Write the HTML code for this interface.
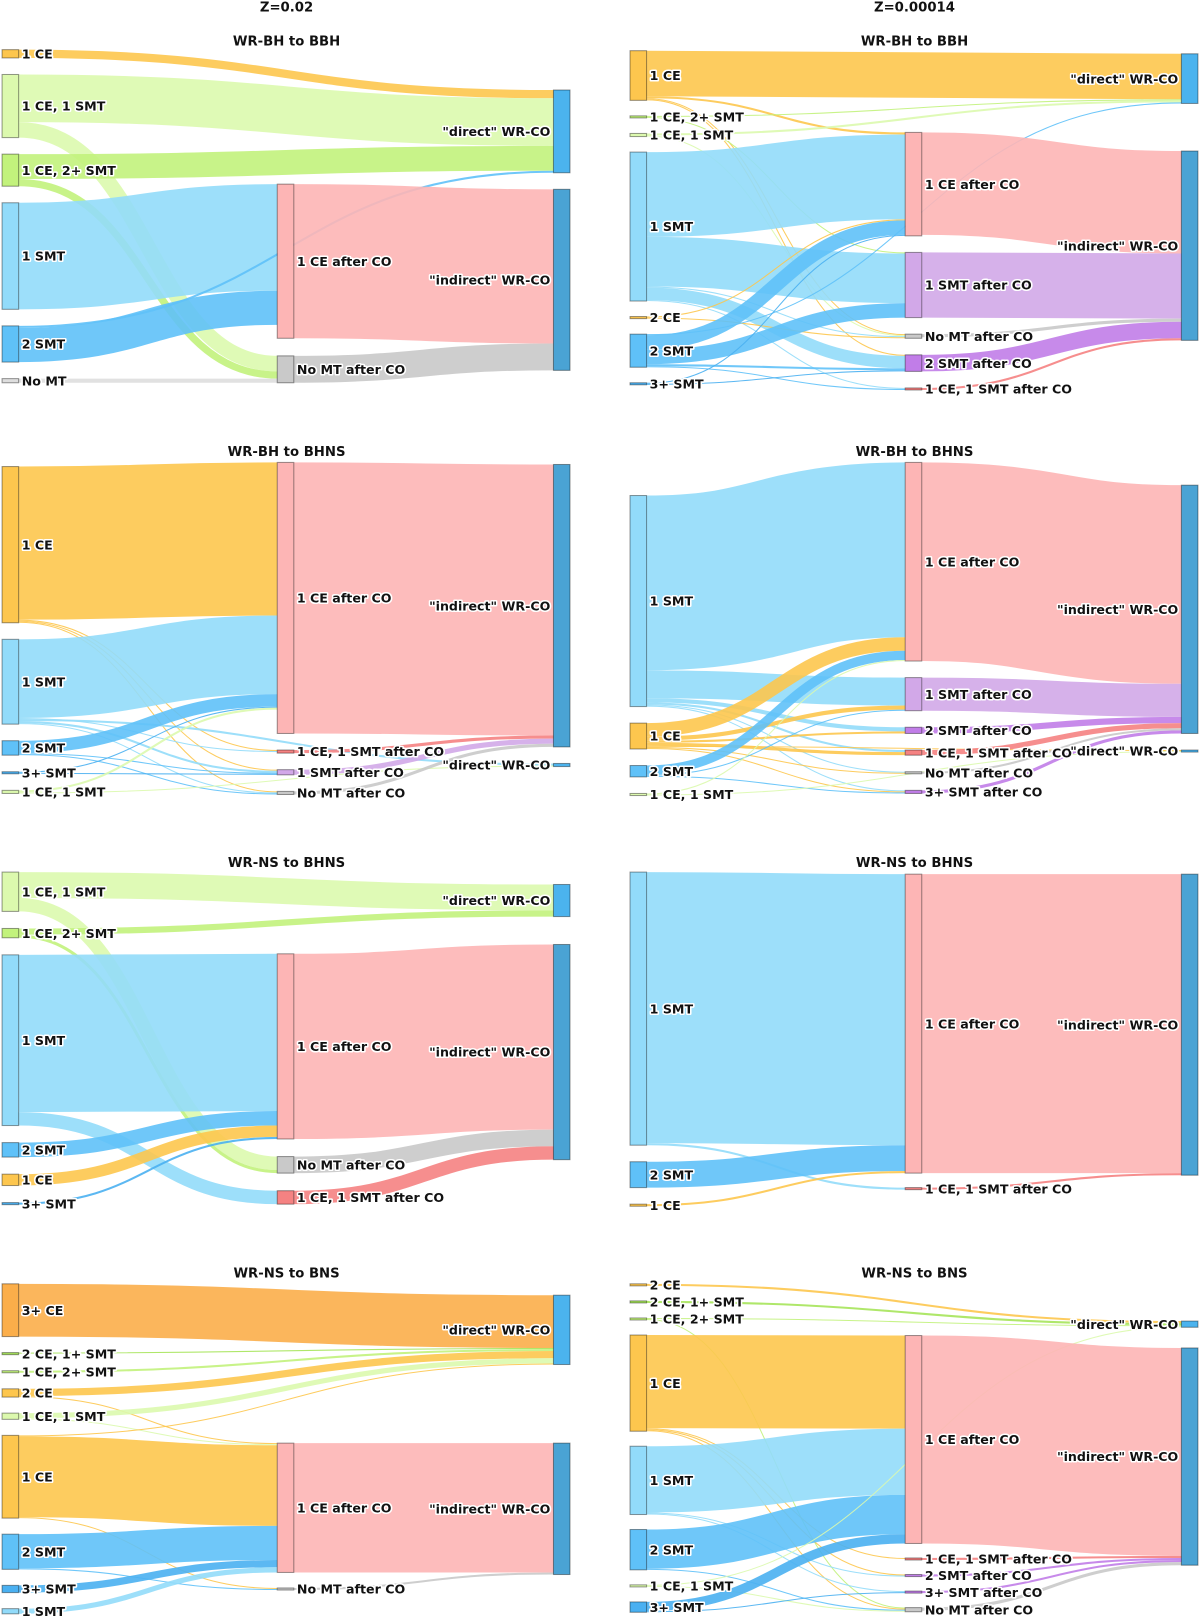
<!DOCTYPE html>
<html><head><meta charset="utf-8">
<style>
html,body{margin:0;padding:0;background:#fff;}
svg{display:block;font-family:"DejaVu Sans","Liberation Sans",sans-serif;}
.lbl{font-size:12.2px;font-weight:bold;fill:#111;paint-order:stroke;stroke:#fff;stroke-width:3px;stroke-linejoin:round;}
.ttl{font-size:12.8px;font-weight:bold;fill:#111;}
</style></head><body>
<svg id="fig" width="1200" height="1620" viewBox="0 0 1200 1620" xmlns="http://www.w3.org/2000/svg">
<g id="root" transform="scale(1.0345)">
<text class="ttl" x="277" y="11" text-anchor="middle">Z=0.02</text>
<text class="ttl" x="884" y="11" text-anchor="middle">Z=0.00014</text>
</g>
</svg>
<script>
// ---- data: nodes [name, column, colorKey], links [source, target, value] ----
const p1Nodes=[["1 CE",0,"o"],["1 CE, 1 SMT",0,"lg"],["1 CE, 2+ SMT",0,"g"],["1 SMT",0,"lb"],["2 SMT",0,"b"],["No MT",0,"gr"],
 ["1 CE after CO",1,"pk"],["No MT after CO",1,"gm"],["\"direct\" WR-CO",2,"dir"],["\"indirect\" WR-CO",2,"ind"]];
const p1Links=[["1 CE","\"direct\" WR-CO",8],["1 CE, 1 SMT","\"direct\" WR-CO",46],["1 CE, 1 SMT","No MT after CO",15],
 ["1 CE, 2+ SMT","\"direct\" WR-CO",24],["1 CE, 2+ SMT","No MT after CO",7],["1 SMT","1 CE after CO",103],
 ["2 SMT","1 CE after CO",33],["2 SMT","\"direct\" WR-CO",2],["No MT","No MT after CO",4],
 ["1 CE after CO","\"indirect\" WR-CO",149],["No MT after CO","\"indirect\" WR-CO",26]];

const p2Nodes=[["1 CE",0,"o"],["1 CE, 2+ SMT",0,"g"],["1 CE, 1 SMT",0,"lg"],["1 SMT",0,"lb"],["2 CE",0,"o"],["2 SMT",0,"b"],["3+ SMT",0,"b3"],
 ["1 CE after CO",1,"pk"],["1 SMT after CO",1,"pu"],["No MT after CO",1,"gm"],["2 SMT after CO",1,"pu2"],["1 CE, 1 SMT after CO",1,"rd"],
 ["\"direct\" WR-CO",2,"dir"],["\"indirect\" WR-CO",2,"ind"]];
const p2Links=[["1 CE","\"direct\" WR-CO",44],["1 CE","1 CE after CO",2],["1 CE","No MT after CO",1],["1 CE","2 SMT after CO",1],
 ["1 CE, 2+ SMT","\"direct\" WR-CO",1],["1 CE, 2+ SMT","1 SMT after CO",1],["1 CE, 1 SMT","\"direct\" WR-CO",2],["1 CE, 1 SMT","No MT after CO",1],
 ["1 SMT","1 CE after CO",82],["1 SMT","1 SMT after CO",48],["1 SMT","2 SMT after CO",12],["1 SMT","No MT after CO",1],["1 SMT","1 CE, 1 SMT after CO",1],
 ["2 CE","1 CE after CO",1],["2 CE","No MT after CO",1],
 ["2 SMT","1 CE after CO",14],["2 SMT","1 SMT after CO",14],["2 SMT","2 SMT after CO",2],["2 SMT","\"direct\" WR-CO",1],["2 SMT","1 CE, 1 SMT after CO",1],
 ["3+ SMT","1 CE after CO",1],["3+ SMT","2 SMT after CO",1],
 ["1 CE after CO","\"indirect\" WR-CO",99],["1 SMT after CO","\"indirect\" WR-CO",63],["No MT after CO","\"indirect\" WR-CO",3],
 ["2 SMT after CO","\"indirect\" WR-CO",16],["1 CE, 1 SMT after CO","\"indirect\" WR-CO",2]];

const p3Nodes=[["1 CE",0,"o"],["1 SMT",0,"lb"],["2 SMT",0,"b"],["3+ SMT",0,"b3"],["1 CE, 1 SMT",0,"lg"],
 ["1 CE after CO",1,"pk"],["1 CE, 1 SMT after CO",1,"rd"],["1 SMT after CO",1,"pu"],["No MT after CO",1,"gm"],
 ["\"indirect\" WR-CO",2,"ind"],["\"direct\" WR-CO",2,"dir"]];
const p3Links=[["1 CE","1 CE after CO",148],["1 CE","1 CE, 1 SMT after CO",1],["1 CE","1 SMT after CO",1],["1 CE","No MT after CO",1],
 ["1 SMT","1 CE after CO",76],["1 SMT","1 CE, 1 SMT after CO",1],["1 SMT","1 SMT after CO",2],["1 SMT","No MT after CO",1],["1 SMT","\"direct\" WR-CO",2],
 ["2 SMT","1 CE after CO",12],["2 SMT","1 SMT after CO",1],["2 SMT","No MT after CO",1],
 ["3+ SMT","1 CE after CO",1],["3+ SMT","1 SMT after CO",1],["1 CE, 1 SMT","1 CE after CO",2],["1 CE, 1 SMT","\"direct\" WR-CO",1],
 ["1 CE after CO","\"indirect\" WR-CO",262],["1 CE, 1 SMT after CO","\"indirect\" WR-CO",3],["1 SMT after CO","\"indirect\" WR-CO",5],["No MT after CO","\"indirect\" WR-CO",3]];

const p4Nodes=[["1 SMT",0,"lb"],["1 CE",0,"o"],["2 SMT",0,"b"],["1 CE, 1 SMT",0,"lg"],
 ["1 CE after CO",1,"pk"],["1 SMT after CO",1,"pu"],["2 SMT after CO",1,"pu2"],["1 CE, 1 SMT after CO",1,"rd"],["No MT after CO",1,"gm"],["3+ SMT after CO",1,"pu2"],
 ["\"indirect\" WR-CO",2,"ind"],["\"direct\" WR-CO",2,"dir"]];
const p4Links=[["1 SMT","1 CE after CO",169],["1 SMT","1 SMT after CO",27],["1 SMT","2 SMT after CO",4],["1 SMT","1 CE, 1 SMT after CO",2],["1 SMT","No MT after CO",1],["1 SMT","3+ SMT after CO",1],
 ["1 CE","1 CE after CO",13],["1 CE","1 SMT after CO",4],["1 CE","2 SMT after CO",2],["1 CE","1 CE, 1 SMT after CO",3],["1 CE","No MT after CO",1],["1 CE","3+ SMT after CO",1],["1 CE","\"direct\" WR-CO",1],
 ["2 SMT","1 CE after CO",9],["2 SMT","1 SMT after CO",1],["2 SMT","3+ SMT after CO",1],["1 CE, 1 SMT","\"direct\" WR-CO",1],["1 CE, 1 SMT","1 CE after CO",1],
 ["1 CE after CO","\"indirect\" WR-CO",192],["1 SMT after CO","\"indirect\" WR-CO",32],["2 SMT after CO","\"indirect\" WR-CO",6],
 ["1 CE, 1 SMT after CO","\"indirect\" WR-CO",5],["No MT after CO","\"indirect\" WR-CO",2],["3+ SMT after CO","\"indirect\" WR-CO",3]];

const p5Nodes=[["1 CE, 1 SMT",0,"lg"],["1 CE, 2+ SMT",0,"g"],["1 SMT",0,"lb"],["2 SMT",0,"b"],["1 CE",0,"o"],["3+ SMT",0,"b3"],
 ["1 CE after CO",1,"pk"],["No MT after CO",1,"gm"],["1 CE, 1 SMT after CO",1,"rd"],["\"direct\" WR-CO",2,"dir"],["\"indirect\" WR-CO",2,"ind"]];
const p5Links=[["1 CE, 1 SMT","\"direct\" WR-CO",25],["1 CE, 1 SMT","No MT after CO",13],["1 CE, 2+ SMT","\"direct\" WR-CO",6],["1 CE, 2+ SMT","No MT after CO",3],
 ["1 SMT","1 CE after CO",152],["1 SMT","1 CE, 1 SMT after CO",13],["2 SMT","1 CE after CO",14],["1 CE","1 CE after CO",11],["3+ SMT","1 CE after CO",2],
 ["1 CE after CO","\"indirect\" WR-CO",179],["No MT after CO","\"indirect\" WR-CO",16],["1 CE, 1 SMT after CO","\"indirect\" WR-CO",13]];

const p6Nodes=[["1 SMT",0,"lb"],["2 SMT",0,"b"],["1 CE",0,"o"],["1 CE after CO",1,"pk"],["1 CE, 1 SMT after CO",1,"rd"],["\"indirect\" WR-CO",2,"ind"]];
const p6Links=[["1 SMT","1 CE after CO",262],["1 SMT","1 CE, 1 SMT after CO",2],["2 SMT","1 CE after CO",25],["1 CE","1 CE after CO",2],
 ["1 CE after CO","\"indirect\" WR-CO",289],["1 CE, 1 SMT after CO","\"indirect\" WR-CO",2]];

const p7Nodes=[["3+ CE",0,"o3"],["2 CE, 1+ SMT",0,"g2"],["1 CE, 2+ SMT",0,"g"],["2 CE",0,"o"],["1 CE, 1 SMT",0,"lg"],["1 CE",0,"o"],["2 SMT",0,"b"],["3+ SMT",0,"b3"],["1 SMT",0,"lb"],
 ["1 CE after CO",1,"pk"],["No MT after CO",1,"gm"],["\"direct\" WR-CO",2,"dir"],["\"indirect\" WR-CO",2,"ind"]];
const p7Links=[["3+ CE","\"direct\" WR-CO",51],["2 CE, 1+ SMT","\"direct\" WR-CO",1],["1 CE, 2+ SMT","\"direct\" WR-CO",2],["2 CE","\"direct\" WR-CO",7],["2 CE","1 CE after CO",1],
 ["1 CE, 1 SMT","\"direct\" WR-CO",5],["1 CE, 1 SMT","1 CE after CO",1],["1 CE","\"direct\" WR-CO",1],["1 CE","1 CE after CO",78],["1 CE","No MT after CO",1],
 ["2 SMT","1 CE after CO",33],["2 SMT","No MT after CO",1],["3+ SMT","1 CE after CO",7],["1 SMT","1 CE after CO",5],
 ["1 CE after CO","\"indirect\" WR-CO",125],["No MT after CO","\"indirect\" WR-CO",2]];

const p8Nodes=[["2 CE",0,"o"],["2 CE, 1+ SMT",0,"g2"],["1 CE, 2+ SMT",0,"g"],["1 CE",0,"o"],["1 SMT",0,"lb"],["2 SMT",0,"b"],["1 CE, 1 SMT",0,"lg"],["3+ SMT",0,"b3"],
 ["1 CE after CO",1,"pk"],["1 CE, 1 SMT after CO",1,"rd"],["2 SMT after CO",1,"pu2"],["3+ SMT after CO",1,"pu2"],["No MT after CO",1,"gm"],
 ["\"direct\" WR-CO",2,"dir"],["\"indirect\" WR-CO",2,"ind"]];
const p8Links=[["2 CE","\"direct\" WR-CO",2],["2 CE, 1+ SMT","\"direct\" WR-CO",2],["1 CE, 2+ SMT","\"direct\" WR-CO",1],["1 CE, 2+ SMT","No MT after CO",1],
 ["1 CE","1 CE after CO",90],["1 CE","1 CE, 1 SMT after CO",1],["1 CE","2 SMT after CO",1],["1 CE","No MT after CO",1],
 ["1 SMT","1 CE after CO",64],["1 SMT","2 SMT after CO",1],["1 SMT","3+ SMT after CO",1],["2 SMT","1 CE after CO",38],["2 SMT","No MT after CO",1],
 ["1 CE, 1 SMT","\"direct\" WR-CO",1],["1 CE, 1 SMT","No MT after CO",1],["3+ SMT","1 CE after CO",9],["3+ SMT","3+ SMT after CO",1],
 ["1 CE after CO","\"indirect\" WR-CO",201],["1 CE, 1 SMT after CO","\"indirect\" WR-CO",2],["2 SMT after CO","\"indirect\" WR-CO",2],
 ["3+ SMT after CO","\"indirect\" WR-CO",2],["No MT after CO","\"indirect\" WR-CO",3]];

const panelTitles=["WR-BH to BBH","WR-BH to BBH","WR-BH to BHNS","WR-BH to BHNS","WR-NS to BHNS","WR-NS to BHNS","WR-NS to BNS","WR-NS to BNS"];

// ---- styling / layout (not data) ----
const COL={o:"#fdc64e",o3:"#fbae4a",lg:"#dcf9ae",g:"#c2f27c",g2:"#a6e45a",lb:"#92dbfa",b:"#5fc1f8",b3:"#4ab0f1",gr:"#dedede",
 pk:"#fdb5b5",gm:"#c9c9c9",pu:"#d2a8e8",pu2:"#c17de8",rd:"#f58282",dir:"#4bb3ee",ind:"#4aa3d4"};
const LAYOUT=[
 {bx:0,ty:44,tops:[48,178,87],gaps:[16,17,16]},
 {bx:607,ty:44,tops:[49,128,52],gaps:[15,16,46]},
 {bx:0,ty:441,tops:[451,447,449],gaps:[16,16,16]},
 {bx:607,ty:441,tops:[479,447,469],gaps:[16,16,16]},
 {bx:0,ty:838,tops:[843,922,855],gaps:[16.5,17,27]},
 {bx:607,ty:838,tops:[843,845,845],gaps:[16,14,16]},
 {bx:0,ty:1235,tops:[1241,1395,1252],gaps:[15.5,15,76]},
 {bx:607,ty:1235,tops:[1241,1291,1277],gaps:[14.5,14,20]}];
const ALL=[[p1Nodes,p1Links],[p2Nodes,p2Links],[p3Nodes,p3Links],[p4Nodes,p4Links],[p5Nodes,p5Links],[p6Nodes,p6Links],[p7Nodes,p7Links],[p8Nodes,p8Links]];
const NS="http://www.w3.org/2000/svg";
const svg=document.getElementById("root");
const NW=16, COLX=[2,268,535];
function mk(tag,attrs,parent){const e=document.createElementNS(NS,tag);for(const k in attrs)e.setAttribute(k,attrs[k]);parent.appendChild(e);return e;}
function slug(s){return s.replace(/[^a-zA-Z0-9+]+/g,"-").replace(/\+/g,"plus").replace(/^-|-$/g,"").toLowerCase();}

ALL.forEach(([nodes,links],pi)=>{
 const L=LAYOUT[pi];
 const g=mk("g",{},svg);
 
 
 const t=mk("text",{class:"ttl",x:L.bx+277,y:L.ty,"text-anchor":"middle"},g);
 t.textContent=panelTitles[pi];
 
 
 const N={};
 const list=nodes.map(n=>{const o={name:n[0],col:n[1],color:COL[n[2]],vin:0,vout:0,ins:[],outs:[]};N[n[0]]=o;return o;});
 const L2=links.map(l=>{const o={s:N[l[0]],t:N[l[1]],v:l[2]};o.s.vout+=o.v;o.t.vin+=o.v;o.s.outs.push(o);o.t.ins.push(o);return o;});
 const cy=[L.tops[0],L.tops[1],L.tops[2]];
 list.forEach(n=>{n.h=Math.max(n.vin,n.vout,2);n.x=L.bx+COLX[n.col];n.y=cy[n.col];cy[n.col]+=n.h+L.gaps[n.col];});
 list.forEach(n=>{
  n.outs.sort((a,b)=>a.t.y-b.t.y);n.ins.sort((a,b)=>a.s.y-b.s.y);
  let o=0;n.outs.forEach(l=>{l.sy=n.y+o+l.v/2;o+=l.v;});
  o=0;n.ins.forEach(l=>{l.ty=n.y+o+l.v/2;o+=l.v;});
 });
 const lg=mk("g",{},g);
 L2.forEach(l=>{
  const x0=l.s.x+NW,x1=l.t.x,xm=(x0+x1)/2;
  const p=mk("path",{d:`M${x0},${l.sy}C${xm},${l.sy} ${xm},${l.ty} ${x1},${l.ty}`,fill:"none",stroke:l.s.color,"stroke-width":Math.max(l.v,1),"stroke-opacity":0.9},lg);
  
  
 });
 list.forEach(n=>{
  const r=mk("rect",{x:n.x,y:n.y,width:NW,height:n.h,fill:n.color,stroke:"rgba(0,0,0,0.4)","stroke-width":1},g);
  
  
 });
 list.forEach(n=>{
  const right=n.col===2;
  const tx=mk("text",{class:"lbl",x:right?n.x-3:n.x+NW+3,y:n.y+n.h/2+4.5,"text-anchor":right?"end":"start"},g);
  tx.textContent=n.name;
  
  
 });
});
</script>
</body></html>
